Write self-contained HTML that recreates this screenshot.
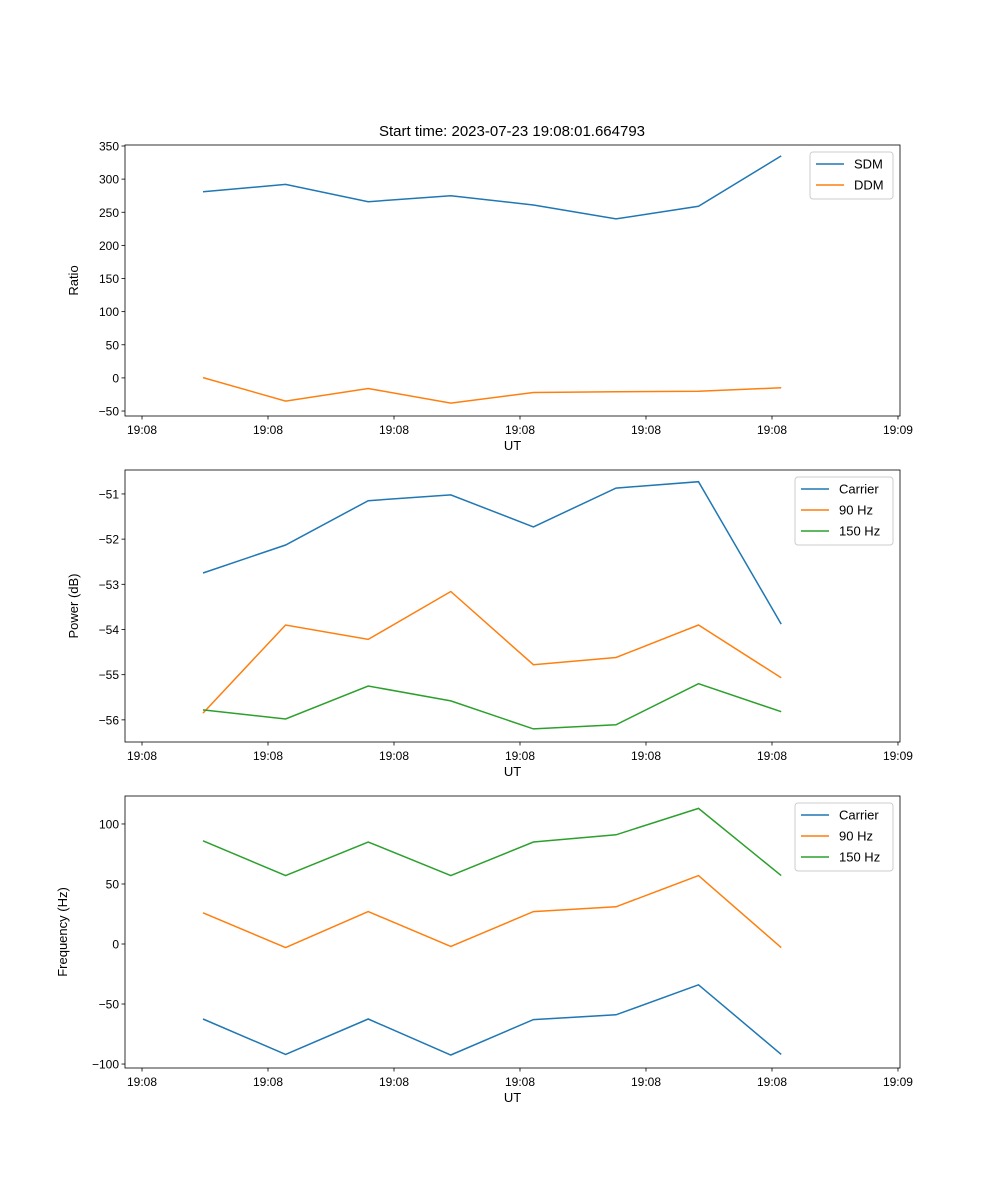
<!DOCTYPE html>
<html><head><meta charset="utf-8"><style>
body{margin:0;background:#fff}
svg{display:block;font-family:"Liberation Sans","DejaVu Sans",sans-serif}
</style></head><body>
<svg id="fig" width="1000" height="1200" viewBox="0 0 1000 1200"></svg>
<script>
// Data (x in tick units from first 19:08 tick)
const times = [0.484, 1.140, 1.795, 2.451, 3.106, 3.762, 4.417, 5.073];
const xTickVals = [0,1,2,3,4,5,6];
const xTickLabels = ["19:08","19:08","19:08","19:08","19:08","19:08","19:09"];
const sdm = [281, 292, 266, 275, 261, 240, 259, 335];
const ddm = [0.5, -35, -16, -38, -22, -21, -20, -15];
const powCarrier = [-52.75, -52.13, -51.15, -51.02, -51.73, -50.87, -50.73, -53.88];
const pow90 = [-55.85, -53.9, -54.22, -53.16, -54.78, -54.62, -53.9, -55.07];
const pow150 = [-55.78, -55.98, -55.25, -55.58, -56.2, -56.11, -55.2, -55.82];
const freqCarrier = [-62.5, -92, -62.5, -92.5, -63, -59, -34, -92];
const freq90 = [26, -3, 27, -2, 27, 31, 57, -3];
const freq150 = [86, 57, 85, 57, 85, 91, 113, 57];
const ticks1 = [-50,0,50,100,150,200,250,300,350];
const ticks2 = [-56,-55,-54,-53,-52,-51];
const ticks3 = [-100,-50,0,50,100];

const NS="http://www.w3.org/2000/svg";
const svg=document.getElementById('fig');
function el(tag,attrs,parent){const e=document.createElementNS(NS,tag);for(const k in attrs)e.setAttribute(k,attrs[k]);(parent||svg).appendChild(e);return e;}
const L=125,R=900,xMin=-0.135,xMax=6.016;
const xs=v=>L+(v-xMin)/(xMax-xMin)*(R-L);
const fmt=v=>String(v).replace('-','\u2212');

function panel(name,top,bottom,yMin,yMax,yTicks,ylabel,series,legend){
  const g=el('g',{});
  
  
  const ys=v=>bottom-(v-yMin)/(yMax-yMin)*(bottom-top);
  series.forEach(s=>{
    const p=el('polyline',{points:s.data.map((v,i)=>xs(times[i]).toFixed(1)+','+ys(v).toFixed(1)).join(' '),fill:'none',stroke:s.color,'stroke-width':1.5},g);
    
    
  });
  const fr=el('rect',{x:L,y:top,width:R-L,height:bottom-top,fill:'none',stroke:'#000','stroke-width':0.8},g);
  
  
  xTickVals.forEach((v,i)=>{
    const x=xs(v);
    el('line',{x1:x,x2:x,y1:bottom,y2:bottom+3.5,stroke:'#000','stroke-width':0.8},g);
    const t=el('text',{x:x,y:bottom+18,'font-size':12,'text-anchor':'middle'},g);t.textContent=xTickLabels[i];
    
    
  });
  yTicks.forEach(v=>{
    const y=ys(v);
    el('line',{x1:L-3.5,x2:L,y1:y,y2:y,stroke:'#000','stroke-width':0.8},g);
    const t=el('text',{x:L-6,y:y+4.5,'font-size':12,'text-anchor':'end'},g);t.textContent=fmt(v);
    
    
  });
  const xl=el('text',{x:(L+R)/2,y:bottom+34,'font-size':13,'text-anchor':'middle'},g);xl.textContent='UT';
  
  
  const cy=(top+bottom)/2;
  const yl=el('text',{x:0,y:0,'font-size':13,'text-anchor':'middle',transform:`translate(${ylabel.x},${cy}) rotate(-90)`},g);yl.textContent=ylabel.t;
  
  
  const lg=el('g',{},g);
  
  
  el('rect',{x:legend.x,y:top+7,width:legend.w,height:series.length*21+5,rx:3,fill:'#fff',stroke:'#ccc','stroke-width':1},lg);
  series.forEach((s,i)=>{
    const y=top+19+i*21;
    el('line',{x1:legend.x+6,x2:legend.x+34,y1:y,y2:y,stroke:s.color,'stroke-width':1.5},lg);
    const t=el('text',{x:legend.x+44,y:y+4.5,'font-size':13},lg);t.textContent=s.label;
    
    
  });
}
const B='#1f77b4',O='#ff7f0e',G='#2ca02c';
const title=el('text',{x:512,y:136,'font-size':15,'text-anchor':'middle'});title.textContent='Start time: 2023-07-23 19:08:01.664793';


panel('ratio-panel',145,416,-57.5,351.5,ticks1,{x:78,t:'Ratio'},
  [{id:'sdm',data:sdm,color:B,label:'SDM'},{id:'ddm',data:ddm,color:O,label:'DDM'}],{x:810,w:83});
panel('power-panel',470,742,-56.49,-50.47,ticks2,{x:78,t:'Power (dB)'},
  [{id:'power-carrier',data:powCarrier,color:B,label:'Carrier'},{id:'power-90hz',data:pow90,color:O,label:'90 Hz'},{id:'power-150hz',data:pow150,color:G,label:'150 Hz'}],{x:795,w:98});
panel('frequency-panel',796,1068,-103.3,123.3,ticks3,{x:67,t:'Frequency (Hz)'},
  [{id:'freq-carrier',data:freqCarrier,color:B,label:'Carrier'},{id:'freq-90hz',data:freq90,color:O,label:'90 Hz'},{id:'freq-150hz',data:freq150,color:G,label:'150 Hz'}],{x:795,w:98});
</script>
</body></html>
